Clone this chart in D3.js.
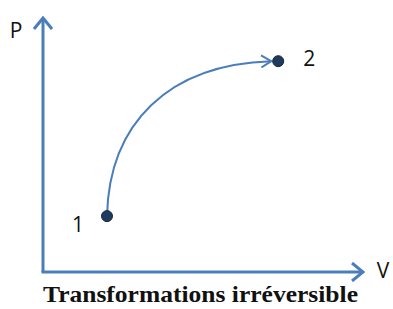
<!DOCTYPE html>
<html>
<head>
<meta charset="utf-8">
<script src="https://cdn.jsdelivr.net/npm/d3@7"></script>
<style>
  body { margin: 0; background: #fff; }
  svg { display: block; }
</style>
</head>
<body>
<svg id="chart"></svg>
<script>
// state points (V, P) in arbitrary units
const stateNames = ["1", "2"];
const volumes = [2.0, 7.35];
const pressures = [2.2, 8.3];
const axisNames = ["V", "P"];
const title = "Transformations irréversible";

function drawChart(){

    const width = 393, height = 309;
    const blue = "#4a7ebb", navy = "#1f3a5f";

    const svg = d3.select("#chart")
                  .attr("width", width)
                  .attr("height", height);

    const x = d3.scaleLinear().domain([0, 10]).range([43, 363]);
    const y = d3.scaleLinear().domain([0, 10]).range([272, 18]);

    const defs = svg.append("defs");
    defs.append("marker")
        .attr("id", "axisArrow")
        .attr("viewBox", "0 0 14 20")
        .attr("refX", 12).attr("refY", 10)
        .attr("markerWidth", 14).attr("markerHeight", 20)
        .attr("markerUnits", "userSpaceOnUse")
        .attr("orient", "auto")
        .append("path")
        .attr("d", "M1,1 L12,10 L1,19")
        .attr("fill", "none")
        .attr("stroke", blue)
        .attr("stroke-width", 3);

    defs.append("marker")
        .attr("id", "curveArrow")
        .attr("viewBox", "0 0 13 14")
        .attr("refX", 11).attr("refY", 7)
        .attr("markerWidth", 13).attr("markerHeight", 14)
        .attr("markerUnits", "userSpaceOnUse")
        .attr("orient", "auto")
        .append("path")
        .attr("d", "M1,1 L11,7 L1,13")
        .attr("fill", "none")
        .attr("stroke", blue)
        .attr("stroke-width", 2);

    // axes
    svg.append("path")
       .attr("d", `M${x(0)},${y(0)} L${x(0)},${y(10)}`)
       .attr("stroke", blue).attr("stroke-width", 3).attr("fill", "none")
       .attr("marker-end", "url(#axisArrow)");
    svg.append("path")
       .attr("d", `M${x(0) - 1.5},${y(0)} L${x(10)},${y(0)}`)
       .attr("stroke", blue).attr("stroke-width", 3).attr("fill", "none")
       .attr("marker-end", "url(#axisArrow)");

    // curve 1 -> 2
    const x1 = x(volumes[0]), y1 = y(pressures[0]);
    const x2 = x(volumes[1]), y2 = y(pressures[1]);
    const dx = x2 - x1, dy = y1 - y2;
    const p = d3.path();
    p.moveTo(x1, y1);
    p.bezierCurveTo(x1 + 0.012 * dx, y1 - 0.6 * dy,
                    x1 + 0.36 * dx, y2 + 0.02 * dy,
                    x2 - 7, y2);
    svg.append("path")
       .attr("d", p.toString())
       .attr("fill", "none")
       .attr("stroke", blue)
       .attr("stroke-width", 2)
       .attr("marker-end", "url(#curveArrow)");

    // state points
    svg.append("g")
       .selectAll("circle")
       .data(stateNames)
       .join("circle")
       .attr("cx", (d, i) => x(volumes[i]))
       .attr("cy", (d, i) => y(pressures[i]))
       .attr("r", 5.5)
       .attr("fill", navy)
       .attr("stroke", "#16283f")
       .attr("stroke-width", 1);

    const labelFont = "'Open Sans', 'Liberation Sans', sans-serif";

    svg.append("g")
       .selectAll("text")
       .data(stateNames)
       .join("text")
       .attr("x", (d, i) => i === 0 ? x(volumes[i]) - 29 : x(volumes[i]) + 31)
       .attr("y", (d, i) => i === 0 ? y(pressures[i]) + 16 : y(pressures[i]) + 5)
       .attr("text-anchor", "middle")
       .attr("font-family", labelFont)
       .attr("font-size", 21)
       .attr("fill", "#111")
       .text(d => d);

    svg.append("text")
       .attr("x", x(10) + 20).attr("y", y(0) + 6)
       .attr("text-anchor", "middle")
       .attr("font-family", labelFont).attr("font-size", 21).attr("fill", "#111")
       .text(axisNames[0]);
    svg.append("text")
       .attr("x", 16).attr("y", 38)
       .attr("text-anchor", "middle")
       .attr("font-family", labelFont).attr("font-size", 21).attr("fill", "#111")
       .text(axisNames[1]);

    svg.append("text")
       .attr("x", 43).attr("y", 302)
       .attr("font-family", "'Liberation Serif', 'Times New Roman', serif")
       .attr("font-weight", "bold")
       .attr("font-size", 23.5)
       .attr("textLength", 315)
       .attr("lengthAdjust", "spacingAndGlyphs")
       .attr("fill", "#111")
       .text(title);
}

drawChart();
</script>
</body>
</html>
